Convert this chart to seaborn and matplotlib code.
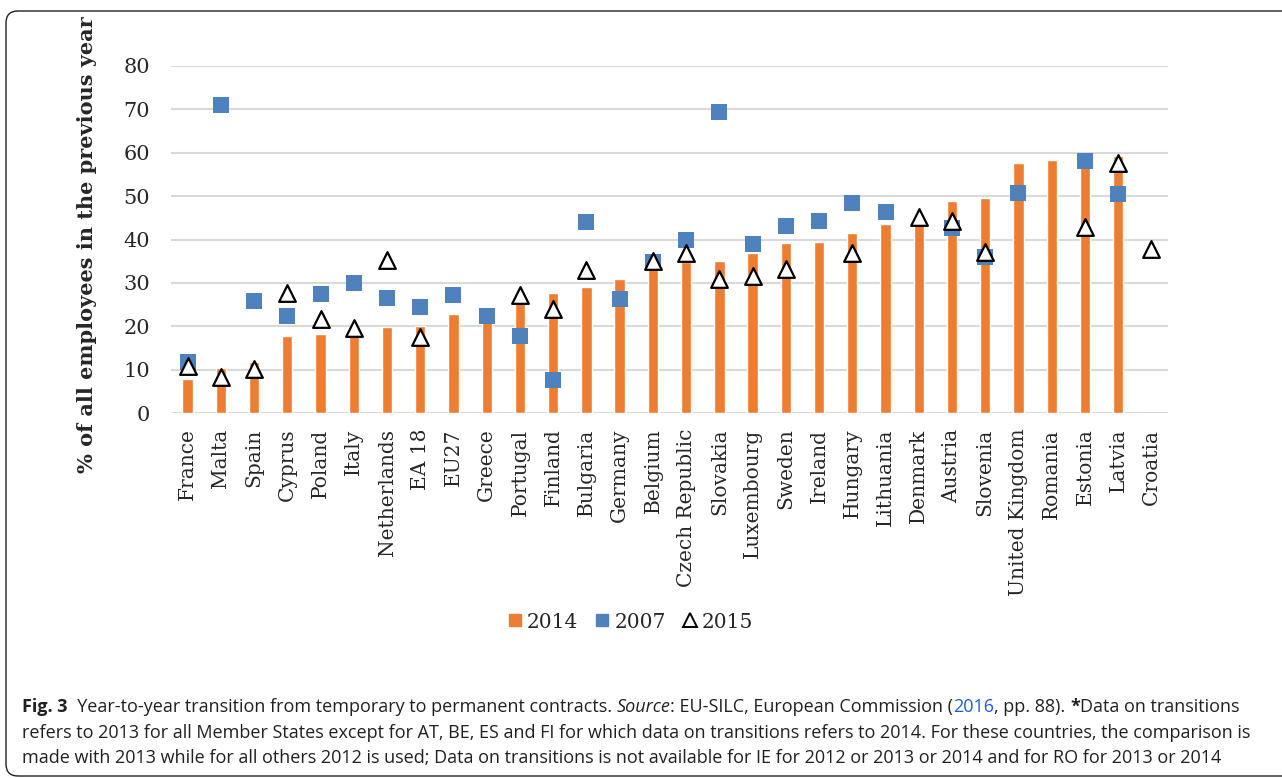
"""Year-to-year transition from temporary to permanent contracts (Fig. 3)."""

import matplotlib

matplotlib.use("Agg")
import matplotlib.pyplot as plt
import numpy as np
import pandas as pd
import seaborn as sns
from matplotlib.lines import Line2D
from matplotlib.patches import FancyBboxPatch
from matplotlib.transforms import IdentityTransform

countries = [
    "France", "Malta", "Spain", "Cyprus", "Poland", "Italy", "Netherlands",
    "EA 18", "EU27", "Greece", "Portugal", "Finland", "Bulgaria", "Germany",
    "Belgium", "Czech Republic", "Slovakia", "Luxembourg", "Sweden", "Ireland",
    "Hungary", "Lithuania", "Denmark", "Austria", "Slovenia", "United Kingdom",
    "Romania", "Estonia", "Latvia", "Croatia",
]
nan = np.nan
v2014 = [7.8, 10.4, 11.8, 17.8, 18.3, 18.0, 19.8, 20.2, 22.9, 21.0, 26.0, 27.8,
         29.0, 30.9, 33.8, 34.8, 35.1, 36.8, 39.1, 39.5, 41.6, 43.5, 44.0, 48.9,
         49.5, 57.7, 58.3, 58.0, 59.2, nan]
v2007 = [11.9, 71.0, 25.8, 22.5, 27.5, 30.1, 26.5, 24.4, 27.3, 22.5, 17.8, 7.7,
         44.0, 26.2, 34.8, 39.9, 69.4, 38.9, 43.1, 44.3, 48.4, 46.3, nan, 42.7,
         35.9, 50.8, nan, 58.1, 50.5, nan]
v2015 = [11.0, 8.4, 10.1, 27.8, 21.7, 19.6, 35.3, 17.5, nan, nan, 27.2, 23.9,
         33.0, nan, 35.1, 37.0, 30.8, 31.5, 33.3, nan, 37.0, nan, 45.2, 44.3,
         37.1, nan, nan, 42.9, 57.5, 37.7]

caption_lines = [
    [("Fig. 3", "bold", "normal", "#231f20"),
     ("  Year-to-year transition from temporary to permanent contracts. ", "normal", "normal", "#231f20"),
     ("Source", "normal", "italic", "#231f20"),
     (": EU-SILC, European Commission (", "normal", "normal", "#231f20"),
     ("2016", "normal", "normal", "#1f5bd8"),
     (", pp. 88). ", "normal", "normal", "#231f20"),
     ("*", "bold", "normal", "#231f20"),
     ("Data on transitions", "normal", "normal", "#231f20")],
    [("refers to 2013 for all Member States except for AT, BE, ES and FI for which data on "
      "transitions refers to 2014. For these countries, the comparison is", "normal", "normal", "#231f20")],
    [("made with 2013 while for all others 2012 is used; Data on transitions is not available "
      "for IE for 2012 or 2013 or 2014 and for RO for 2013 or 2014", "normal", "normal", "#231f20")],
]

ORANGE = "#ed7d31"
BLUE = "#4f81bd"
SERIF = "DejaVu Serif"

df = pd.DataFrame({"country": countries, "2014": v2014, "2007": v2007, "2015": v2015})

sns.set_style("white")
W, H = 1282, 778
fig = plt.figure(figsize=(W / 100, H / 100), dpi=100)
ax = fig.add_axes([171 / W, 1 - 413.3 / H, 997 / W, 347.6 / H])

sns.barplot(data=df, x="country", y="2014", order=countries, color=ORANGE,
            width=0.31, saturation=1, ax=ax, zorder=2)
sns.stripplot(data=df, x="country", y="2007", order=countries, jitter=False,
              marker="s", size=12, color=BLUE, linewidth=0, ax=ax, zorder=3)
sns.stripplot(data=df, x="country", y="2015", order=countries, jitter=False,
              marker="^", size=12, color="white", edgecolor="black",
              linewidth=1.6, ax=ax, zorder=4)

ax.set_xlim(-0.5, len(countries) - 0.5)
ax.set_ylim(0, 80)
ax.set_yticks(range(0, 81, 10))
for c in ax.collections:
    c.set_clip_on(False)
ax.yaxis.grid(True, color="#d9d9d9", linewidth=1.5, zorder=0)
ax.set_axisbelow(True)
for s in ax.spines.values():
    s.set_visible(False)
ax.tick_params(axis="both", length=0)
ax.tick_params(axis="y", pad=15, labelsize=15)
ax.tick_params(axis="x", pad=11, labelsize=14.5)
for lab in ax.get_xticklabels():
    lab.set_rotation(90)
    lab.set_va("top")
    lab.set_ha("center")
    lab.set_fontfamily(SERIF)
for lab in ax.get_yticklabels():
    lab.set_fontfamily(SERIF)
ax.set_xlabel("")
ax.set_ylabel("% of all employees in the previous year", fontsize=15,
              fontweight="bold", family=SERIF)
ax.yaxis.set_label_coords(-0.0742, 0.485)

handles = [
    Line2D([], [], linestyle="none", marker="s", markersize=8.6, color=ORANGE),
    Line2D([], [], linestyle="none", marker="s", markersize=8.6, color=BLUE),
    Line2D([], [], linestyle="none", marker="^", markersize=10,
           markerfacecolor="white", markeredgecolor="black", markeredgewidth=1.4),
]
fig.legend(handles, ["2014", "2007", "2015"], loc="center", ncol=3,
           bbox_to_anchor=(630 / W, 1 - 622 / H), frameon=False,
           prop={"family": SERIF, "size": 14.5}, handlelength=0.8,
           handletextpad=0.2, columnspacing=0.8)

# rounded frame around the figure
frame = FancyBboxPatch((6, 2), 1400, 765, boxstyle="round,pad=0,rounding_size=12",
                       transform=IdentityTransform(), facecolor="none",
                       edgecolor="#231f20", linewidth=1.0)
fig.patches.append(frame)

# caption with mixed styles, pieces laid out one after another
renderer = fig.canvas.get_renderer()
for line, ybase in zip(caption_lines, [712, 738, 763]):
    x = 22
    for text, weight, style, color in line:
        t = fig.text(x / W, 1 - ybase / H, text, fontsize=13, family="Open Sans",
                     fontweight=weight, fontstyle=style, color=color, va="baseline")
        x += t.get_window_extent(renderer).width

fig.savefig("out.png", dpi=100)
